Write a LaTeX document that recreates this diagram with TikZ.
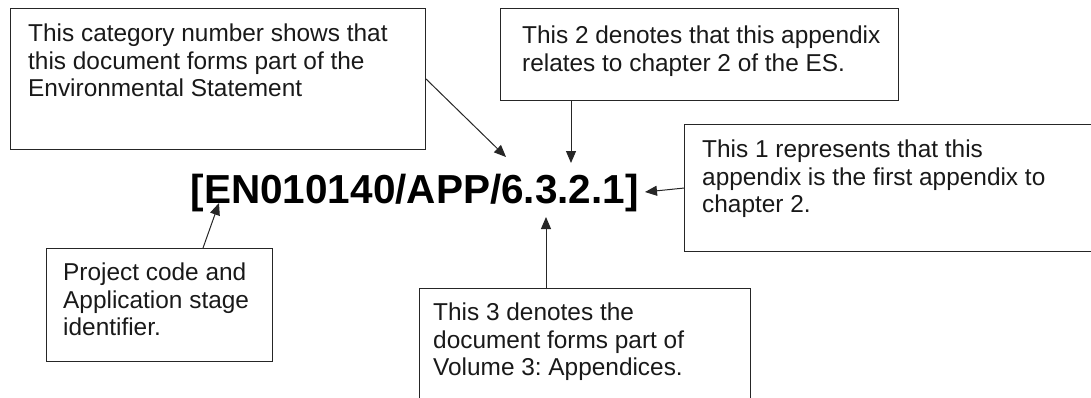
\documentclass[tikz,border=0pt]{standalone}
\usepackage{fontspec}
\setmainfont{Liberation Sans}
\usetikzlibrary{arrows.meta, positioning}
\frenchspacing

\begin{document}
\begin{tikzpicture}[x=1pt, y=-1pt,
    box/.style={draw=black!85, line width=1.1pt, anchor=north west, inner sep=0pt},
    note/.style={align=left, inner sep=0pt, text=black!90, font=\fontsize{24.4}{27.5}\selectfont},
    pointer/.style={-{Triangle[length=12pt, width=10pt]}, line width=1pt, black!85}]
    \clip (0,0) rectangle (1091,397);

    % Reference number
    \node[anchor=base west, inner sep=0pt, font=\fontsize{40.5}{42}\selectfont\bfseries] (code) at (190.5,203) {[EN010140/APP/6.3.2.1]};

    % Callout boxes
    \node[box, minimum width=415pt, minimum height=141pt] (catbox) at (10,8) {};
    \node[box, minimum width=398pt, minimum height=92pt] (chapbox) at (500,8) {};
    \node[box, minimum width=420pt, minimum height=127pt] (onebox) at (684,124) {};
    \node[box, minimum width=226pt, minimum height=113pt] (projbox) at (46,248) {};
    \node[box, minimum width=331pt, minimum height=120pt] (volbox) at (419,288) {};

    % Callout texts
    \node[note, below right=16pt and 18pt of catbox.north west] (cattext) {This category number shows that\\this document forms part of the\\Environmental Statement};
    \node[note, below right=18pt and 22pt of chapbox.north west] (chaptext) {This 2 denotes that this appendix\\relates to chapter 2 of the ES.};
    \node[note, below right=16pt and 18pt of onebox.north west] (onetext) {This 1 represents that this\\appendix is the first appendix to\\chapter 2.};
    \node[note, below right=15pt and 17pt of projbox.north west] (projtext) {Project code and\\Application stage\\identifier.};
    \node[note, below right=15pt and 14pt of volbox.north west] (voltext) {This 3 denotes the\\document forms part of\\Volume 3: Appendices.};

    % Arrow tips on the reference number
    \coordinate (catTip) at (506,157);
    \coordinate (chapTip) at (571,163);
    \coordinate (oneTip) at (645,192);
    \coordinate (projTip) at (219,203);
    \coordinate (volTip) at (546,217);

    % Pointers
    \draw[pointer] (catbox.east) -- (catTip);
    \draw[pointer] (chapbox.south -| chapTip) -- (chapTip);
    \draw[pointer] (onebox.west) -- (oneTip);
    \draw[pointer] ([xshift=157pt]projbox.north west) -- (projTip);
    \draw[pointer] (volbox.north -| volTip) -- (volTip);
\end{tikzpicture}
\end{document}
